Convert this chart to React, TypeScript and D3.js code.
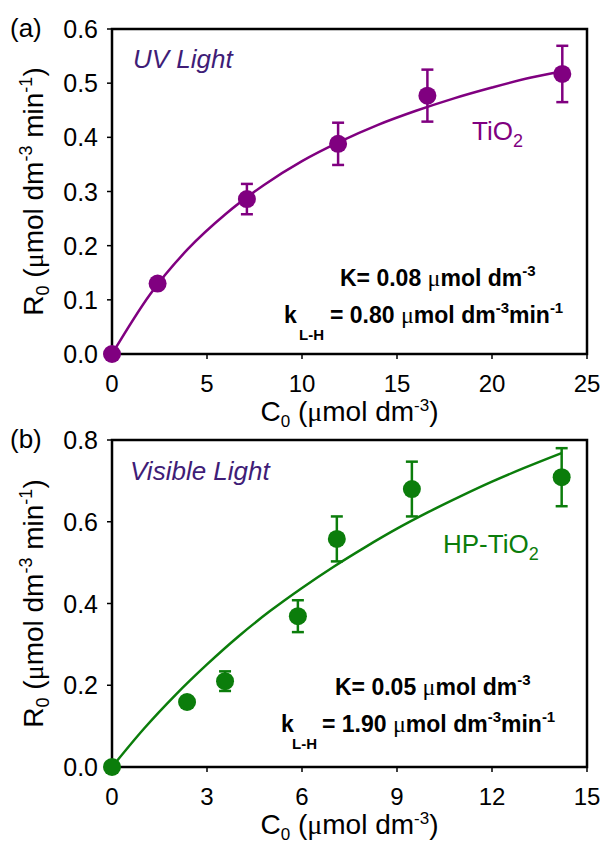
import { scaleLinear, line, curveMonotoneX } from "d3";

// panel (a): TiO2 under UV light
const concA = [0, 2.4, 7.1, 11.9, 16.6, 23.7];
const rateA = [0, 0.13, 0.286, 0.388, 0.477, 0.517];
const errA = [0, 0.006, 0.028, 0.039, 0.048, 0.052];
const fitConcA = [0, 2, 4, 6, 8, 10, 12, 14, 16, 18, 20, 22, 23.7];
const fitRateA = [0, 0.11, 0.194, 0.259, 0.312, 0.356, 0.392, 0.423, 0.449, 0.472, 0.492, 0.51, 0.522];
const xTicksA = [0, 5, 10, 15, 20, 25];
const yTicksA = [0, 0.1, 0.2, 0.3, 0.4, 0.5, 0.6];

// panel (b): HP-TiO2 under visible light
const concB = [0, 2.37, 3.57, 5.87, 7.1, 9.47, 14.2];
const rateB = [0, 0.159, 0.21, 0.369, 0.558, 0.68, 0.709];
const errB = [0, 0.012, 0.024, 0.039, 0.055, 0.067, 0.071];
const fitConcB = [0, 1, 2, 3, 4, 5, 6, 7, 8, 9, 10, 11, 12, 13, 14.2];
const fitRateB = [0, 0.093, 0.176, 0.251, 0.32, 0.382, 0.438, 0.49, 0.538, 0.583, 0.624, 0.662, 0.698, 0.731, 0.768];
const xTicksB = [0, 3, 6, 9, 12, 15];
const yTicksB = [0, 0.2, 0.4, 0.6, 0.8];

const SANS = "'Liberation Sans', Arial, sans-serif";
const SERIF = "'Liberation Serif', 'Times New Roman', serif";
const TITLE_INK = "#3f1d77";

type Box = { left: number; right: number; top: number; bottom: number };

type PanelProps = {
  box: Box;
  xMax: number;
  yMax: number;
  xTicks: number[];
  yTicks: number[];
  yFormat: (v: number) => string;
  conc: number[];
  rate: number[];
  err: number[];
  fitConc: number[];
  fitRate: number[];
  color: string;
  tag: string;
  light: { text: string; x: number; y: number };
  sample: { name: string; x: number; y: number };
  kText: string;
  kLHText: string;
  annot: { kX: number; y1: number; y2: number; smallK: number; lh: number; eq: number };
};

function Mu({ size }: { size: number }) {
  return (
    <tspan fontFamily={SERIF} fontWeight="normal" fontSize={size}>
      μ
    </tspan>
  );
}

function Panel(p: PanelProps) {
  const { box } = p;
  const x = scaleLinear().domain([0, p.xMax]).range([box.left, box.right]);
  const y = scaleLinear().domain([0, p.yMax]).range([box.bottom, box.top]);
  const pts = p.fitConc.map((c, i) => [c, p.fitRate[i]] as [number, number]);
  const path = line<[number, number]>()
    .x((d) => x(d[0]))
    .y((d) => y(d[1]))
    .curve(curveMonotoneX)(pts);
  const cy = (box.top + box.bottom) / 2;
  const cx = (box.left + box.right) / 2;

  return (
    <g>
      {/* frame */}
      <rect
        x={box.left}
        y={box.top}
        width={box.right - box.left}
        height={box.bottom - box.top}
        fill="none"
        stroke="#000"
        strokeWidth={2.5}
      />
      {p.yTicks.map((t) => (
        <g key={"y" + t}>
          <line x1={box.left - 5} x2={box.left} y1={y(t)} y2={y(t)} stroke="#000" strokeWidth={1.5} />
          <text x={box.left - 14} y={y(t) + 9} textAnchor="end" fontSize={25} fill="#000">
            {p.yFormat(t)}
          </text>
        </g>
      ))}
      {p.xTicks.map((t) => (
        <g key={"x" + t}>
          <line x1={x(t)} x2={x(t)} y1={box.bottom} y2={box.bottom + 5} stroke="#000" strokeWidth={1.5} />
          <text x={x(t)} y={box.bottom + 38} textAnchor="middle" fontSize={24} fill="#000">
            {t}
          </text>
        </g>
      ))}

      {/* axis titles */}
      <text x={cx} y={box.bottom + 67} textAnchor="middle" fontSize={28} fill="#000">
        C<tspan fontSize={17} dy={6}>0</tspan>
        <tspan dy={-6}> (</tspan>
        <Mu size={28} />
        <tspan>mol dm</tspan>
        <tspan fontSize={17} dy={-10}>-3</tspan>
        <tspan dy={10}>)</tspan>
      </text>
      <text
        transform={`translate(43, ${cy}) rotate(-90)`}
        textAnchor="middle"
        fontSize={28}
        fill="#000"
      >
        R<tspan fontSize={18} dy={6}>0</tspan>
        <tspan dy={-6}> (</tspan>
        <Mu size={28} />
        <tspan>mol dm</tspan>
        <tspan fontSize={18} dy={-11}>-3</tspan>
        <tspan dy={11}> min</tspan>
        <tspan fontSize={18} dy={-11}>-1</tspan>
        <tspan dy={11}>)</tspan>
      </text>

      <text x={10} y={box.top + 8} fontSize={26} fill="#000">
        {p.tag}
      </text>

      {/* fit curve */}
      <path d={path ?? ""} fill="none" stroke={p.color} strokeWidth={2.5} />

      {/* error bars and points */}
      {p.conc.map((c, i) => {
        const e = p.err[i];
        return (
          <g key={"p" + i}>
            {e > 0 ? (
              <g stroke={p.color} strokeWidth={2.5}>
                <line x1={x(c)} x2={x(c)} y1={y(p.rate[i] - e)} y2={y(p.rate[i] + e)} />
                <line x1={x(c) - 6} x2={x(c) + 6} y1={y(p.rate[i] - e)} y2={y(p.rate[i] - e)} />
                <line x1={x(c) - 6} x2={x(c) + 6} y1={y(p.rate[i] + e)} y2={y(p.rate[i] + e)} />
              </g>
            ) : null}
            <circle cx={x(c)} cy={y(p.rate[i])} r={9} fill={p.color} />
          </g>
        );
      })}

      {/* labels */}
      <text x={p.light.x} y={p.light.y} fontSize={26} fontStyle="italic" fill={TITLE_INK}>
        {p.light.text}
      </text>
      <text x={p.sample.x} y={p.sample.y} fontSize={26} fill={p.color}>
        {p.sample.name}
        <tspan fontSize={18} dy={7}>2</tspan>
      </text>

      <text x={p.annot.kX} y={p.annot.y1} fontSize={23} fontWeight="bold" fill="#000">
        K= {p.kText} <Mu size={24} />
        <tspan>mol dm</tspan>
        <tspan fontSize={15} dy={-10}>-3</tspan>
      </text>
      <text x={p.annot.smallK} y={p.annot.y2} fontSize={23} fontWeight="bold" fill="#000">
        k
      </text>
      <text x={p.annot.lh} y={p.annot.y2 + 17} fontSize={15} fontWeight="bold" fill="#000">
        L-H
      </text>
      <text x={p.annot.eq} y={p.annot.y2} fontSize={23} fontWeight="bold" fill="#000">
        = {p.kLHText} <Mu size={24} />
        <tspan>mol dm</tspan>
        <tspan fontSize={15} dy={-10}>-3</tspan>
        <tspan dy={10}>min</tspan>
        <tspan fontSize={15} dy={-10}>-1</tspan>
      </text>
    </g>
  );
}

export default function App() {
  return (
    <div style={{ position: "absolute", left: 0, top: 0 }}>
      <svg
        width={603}
        height={843}
        viewBox="0 0 603 843"
        style={{ display: "block", background: "#fff" }}
        fontFamily={SANS}
      >
        <Panel
          box={{ left: 112, right: 587, top: 29, bottom: 354 }}
          xMax={25}
          yMax={0.6}
          xTicks={xTicksA}
          yTicks={yTicksA}
          yFormat={(v) => v.toFixed(1)}
          conc={concA}
          rate={rateA}
          err={errA}
          fitConc={fitConcA}
          fitRate={fitRateA}
          color="#800080"
          tag="(a)"
          light={{ text: "UV Light", x: 133, y: 68 }}
          sample={{ name: "TiO", x: 472, y: 140 }}
          kText="0.08"
          kLHText="0.80"
          annot={{ kX: 340, y1: 286, y2: 323, smallK: 284, lh: 299, eq: 330 }}
        />
        <Panel
          box={{ left: 112, right: 587, top: 440, bottom: 767 }}
          xMax={15}
          yMax={0.8}
          xTicks={xTicksB}
          yTicks={yTicksB}
          yFormat={(v) => v.toFixed(1)}
          conc={concB}
          rate={rateB}
          err={errB}
          fitConc={fitConcB}
          fitRate={fitRateB}
          color="#0b7d0b"
          tag="(b)"
          light={{ text: "Visible Light", x: 130, y: 480 }}
          sample={{ name: "HP-TiO", x: 443, y: 553 }}
          kText="0.05"
          kLHText="1.90"
          annot={{ kX: 335, y1: 695, y2: 732, smallK: 281, lh: 292, eq: 322 }}
        />
      </svg>
    </div>
  );
}
